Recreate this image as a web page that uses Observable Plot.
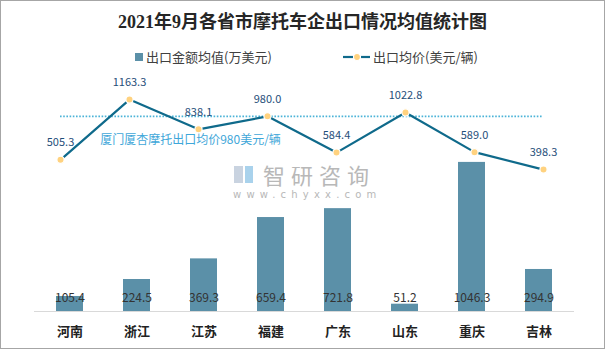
<!DOCTYPE html>
<html>
<head>
<meta charset="utf-8">
<script src="https://cdn.jsdelivr.net/npm/d3@7"></script>
<script src="https://cdn.jsdelivr.net/npm/@observablehq/plot@0.6"></script>
<style>
  html, body { margin: 0; padding: 0; background: #fff; }
  #wrap { position: relative; width: 605px; height: 363px; overflow: hidden; font-family: "Noto Sans CJK SC", "Noto Sans", sans-serif; }
  #frame { position: absolute; left: 0; top: 0; width: 605px; height: 349px; box-sizing: border-box; border: 1px solid #a6a6a6; }
  #title { position: absolute; left: 0; width: 605px; top: 9px; text-align: center; font-family: "Liberation Serif", "Noto Sans CJK SC", serif; font-weight: bold; font-size: 18px; color: #262626; line-height: 26px; }
  .leg { position: absolute; top: 48px; font-size: 13px; color: #404040; line-height: 18px; display: flex; align-items: center; }
  .sq { width: 8px; height: 8px; background: #5b90a8; margin-right: 3px; }
  .wm1 { position: absolute; left: 263px; top: 160px; font-size: 22px; color: #b8b8b8; letter-spacing: 6px; line-height: 28px; }
  .wm2 { position: absolute; left: 233px; top: 188px; font-size: 10px; color: #b8b8b8; letter-spacing: 5.2px; line-height: 13px; font-family: "DejaVu Sans", sans-serif; }
  .logo1 { position: absolute; left: 234px; top: 166px; width: 9px; height: 17px; background: #c9d3e0; }
  .logo2 { position: absolute; left: 245px; top: 166px; width: 8px; height: 17px; background: #a9d2ec; }
  .plot { position: absolute; left: 0; top: 0; }
</style>
</head>
<body>
<div id="wrap">
  <div id="frame"></div>
  <div class="logo1"></div><div class="logo2"></div>
  <div class="wm1">智研咨询</div>
  <div class="wm2">www.chyxx.com</div>
  <div id="title">2021年9月各省市摩托车企出口情况均值统计图</div>
  <div class="leg" style="left:135px;"><div class="sq"></div>出口金额均值(万美元)</div>
  <div class="leg" style="left:343px;">
    <svg width="29" height="10" style="margin-right:1px"><line x1="0" y1="5" x2="27" y2="5" stroke="#0f6a8b" stroke-width="2.2"/><circle cx="14" cy="5" r="3.5" fill="#ffd27f" stroke="#fff" stroke-width="1.2"/></svg>出口均价(美元/辆)
  </div>
  <div id="bars" class="plot"></div>
  <div id="lines" class="plot"></div>
</div>
<script>
const provinces = ["河南", "浙江", "江苏", "福建", "广东", "山东", "重庆", "吉林"];
const exportValue = [105.4, 224.5, 369.3, 659.4, 721.8, 51.2, 1046.3, 294.9];
const avgPrice = [505.3, 1163.3, 838.1, 980.0, 584.4, 1022.8, 589.0, 398.3];
const refPrice = 980;
const refLabel = "厦门厦杏摩托出口均价980美元/辆";

const barData = provinces.map((p, i) => ({p, v: exportValue[i]}));
const lineData = provinces.map((p, i) => ({p, v: avgPrice[i]}));

const font = "'Noto Sans CJK SC', 'Noto Sans', sans-serif";

const bars = Plot.plot({
  width: 605, height: 363,
  marginLeft: 34, marginRight: 31, marginTop: 140, marginBottom: 52,
  style: {background: "transparent", fontFamily: font, overflow: "visible"},
  x: {domain: provinces, paddingInner: 0.6, paddingOuter: 0.3},
  y: {domain: [0, 1200], axis: null},
  marks: [
    Plot.barY(barData, {x: "p", y: "v", fill: "#5b90a8"}),
    Plot.ruleY([0], {stroke: "#d9d9d9", strokeWidth: 1}),
    Plot.text(barData, {x: "p", y: () => 0, text: d => d.v.toFixed(1), dy: -13, fontSize: 12, fill: "#333"}),
    Plot.axisX({tickSize: 0, tickPadding: 15, fontSize: 13, fontWeight: "bold", fill: "#222", label: null})
  ]
});
document.getElementById("bars").appendChild(bars);

const lines = Plot.plot({
  width: 605, height: 363,
  style: {background: "transparent", fontFamily: font, overflow: "visible"},
  x: {type: "point", domain: provinces, range: [58, 544], padding: 0, axis: null},
  y: {domain: [0, 1200], range: [205.6, 95.7], axis: null},
  marks: [
    Plot.ruleY([{v: refPrice, a: provinces[0], b: provinces[provinces.length - 1]}], {y: "v", x1: "a", x2: "b", stroke: "#4bb3d8", strokeWidth: 1.8, strokeDasharray: "1.6,1.6"}),
    Plot.text([{v: refPrice, p: provinces[1], t: refLabel}], {x: "p", y: "v", text: "t", dx: 61, dy: 24, fontSize: 12, fill: "#3fa7d9"}),
    Plot.lineY(lineData, {x: "p", y: "v", stroke: "#0f6a8b", strokeWidth: 2.2}),
    Plot.dot(lineData, {x: "p", y: "v", r: 3.6, fill: "#ffd27f", stroke: "#fff", strokeWidth: 1.2}),
    Plot.text(lineData, {x: "p", y: "v", text: d => d.v.toFixed(1), dy: -17, fontSize: 11, fill: "#1f4e79"})
  ]
});
document.getElementById("lines").appendChild(lines);
</script>
</body>
</html>
